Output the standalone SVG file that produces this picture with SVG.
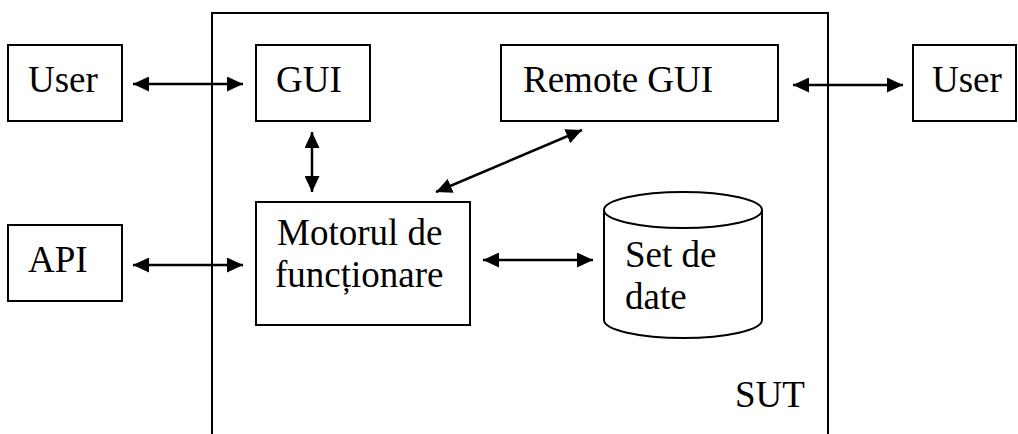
<svg xmlns="http://www.w3.org/2000/svg" width="1018" height="434" viewBox="0 0 1018 434">
  <style>
    .box { fill: #fff; stroke: #000; stroke-width: 2; }
    .frame { fill: none; stroke: #000; stroke-width: 2; }
    .lbl { font-size: 37px; fill: #000; }
    .link { stroke: #000; stroke-width: 2.5; fill: none; marker-start: url(#tip); marker-end: url(#tip); }
  </style>
  <defs>
    <marker id="tip" viewBox="0 0 16 15" refX="16" refY="7.5" markerWidth="16" markerHeight="15" markerUnits="userSpaceOnUse" orient="auto-start-reverse">
      <path d="M0,0 L16,7.5 L0,15 z" fill="#000"/>
    </marker>
  </defs>

  <g font-family="'Liberation Serif', Tinos, 'Times New Roman', 'DejaVu Serif', serif">
    <!-- system under test boundary (open at the bottom) -->
    <g id="sut">
      <path class="frame" d="M212,434 V13 H828 V434"/>
      <text class="lbl" x="735" y="407">SUT</text>
    </g>

    <g id="user-left">
      <rect class="box" x="8" y="45" width="114" height="76"/>
      <text class="lbl" x="28" y="92">User</text>
    </g>

    <g id="gui">
      <rect class="box" x="256" y="45" width="114" height="76"/>
      <text class="lbl" x="276" y="92">GUI</text>
    </g>

    <g id="remote-gui">
      <rect class="box" x="501" y="45" width="277" height="76"/>
      <text class="lbl" x="523" y="92">Remote GUI</text>
    </g>

    <g id="user-right">
      <rect class="box" x="913" y="45" width="103" height="76"/>
      <text class="lbl" x="932" y="92">User</text>
    </g>

    <g id="api">
      <rect class="box" x="8" y="225" width="114" height="76"/>
      <text class="lbl" x="28" y="272">API</text>
    </g>

    <g id="engine">
      <rect class="box" x="256" y="202" width="214" height="123"/>
      <text class="lbl" x="277" y="245">Motorul de</text>
      <text class="lbl" x="275" y="287">funcționare</text>
    </g>

    <g id="dataset">
      <path class="box" d="M604,210 V320 A79,18 0 0 0 762,320 V210"/>
      <ellipse class="box" cx="683" cy="210" rx="79" ry="18"/>
      <text class="lbl" x="625" y="267">Set de</text>
      <text class="lbl" x="625" y="309">date</text>
    </g>
  </g>

  <g id="connectors">
    <line class="link" x1="133" y1="84" x2="243" y2="84"/>
    <line class="link" x1="793" y1="85" x2="903" y2="85"/>
    <line class="link" x1="312" y1="132" x2="312" y2="192"/>
    <line class="link" x1="436" y1="192" x2="582" y2="130"/>
    <line class="link" x1="133" y1="265" x2="243" y2="265"/>
    <line class="link" x1="483" y1="260" x2="593" y2="260"/>
  </g>
</svg>
